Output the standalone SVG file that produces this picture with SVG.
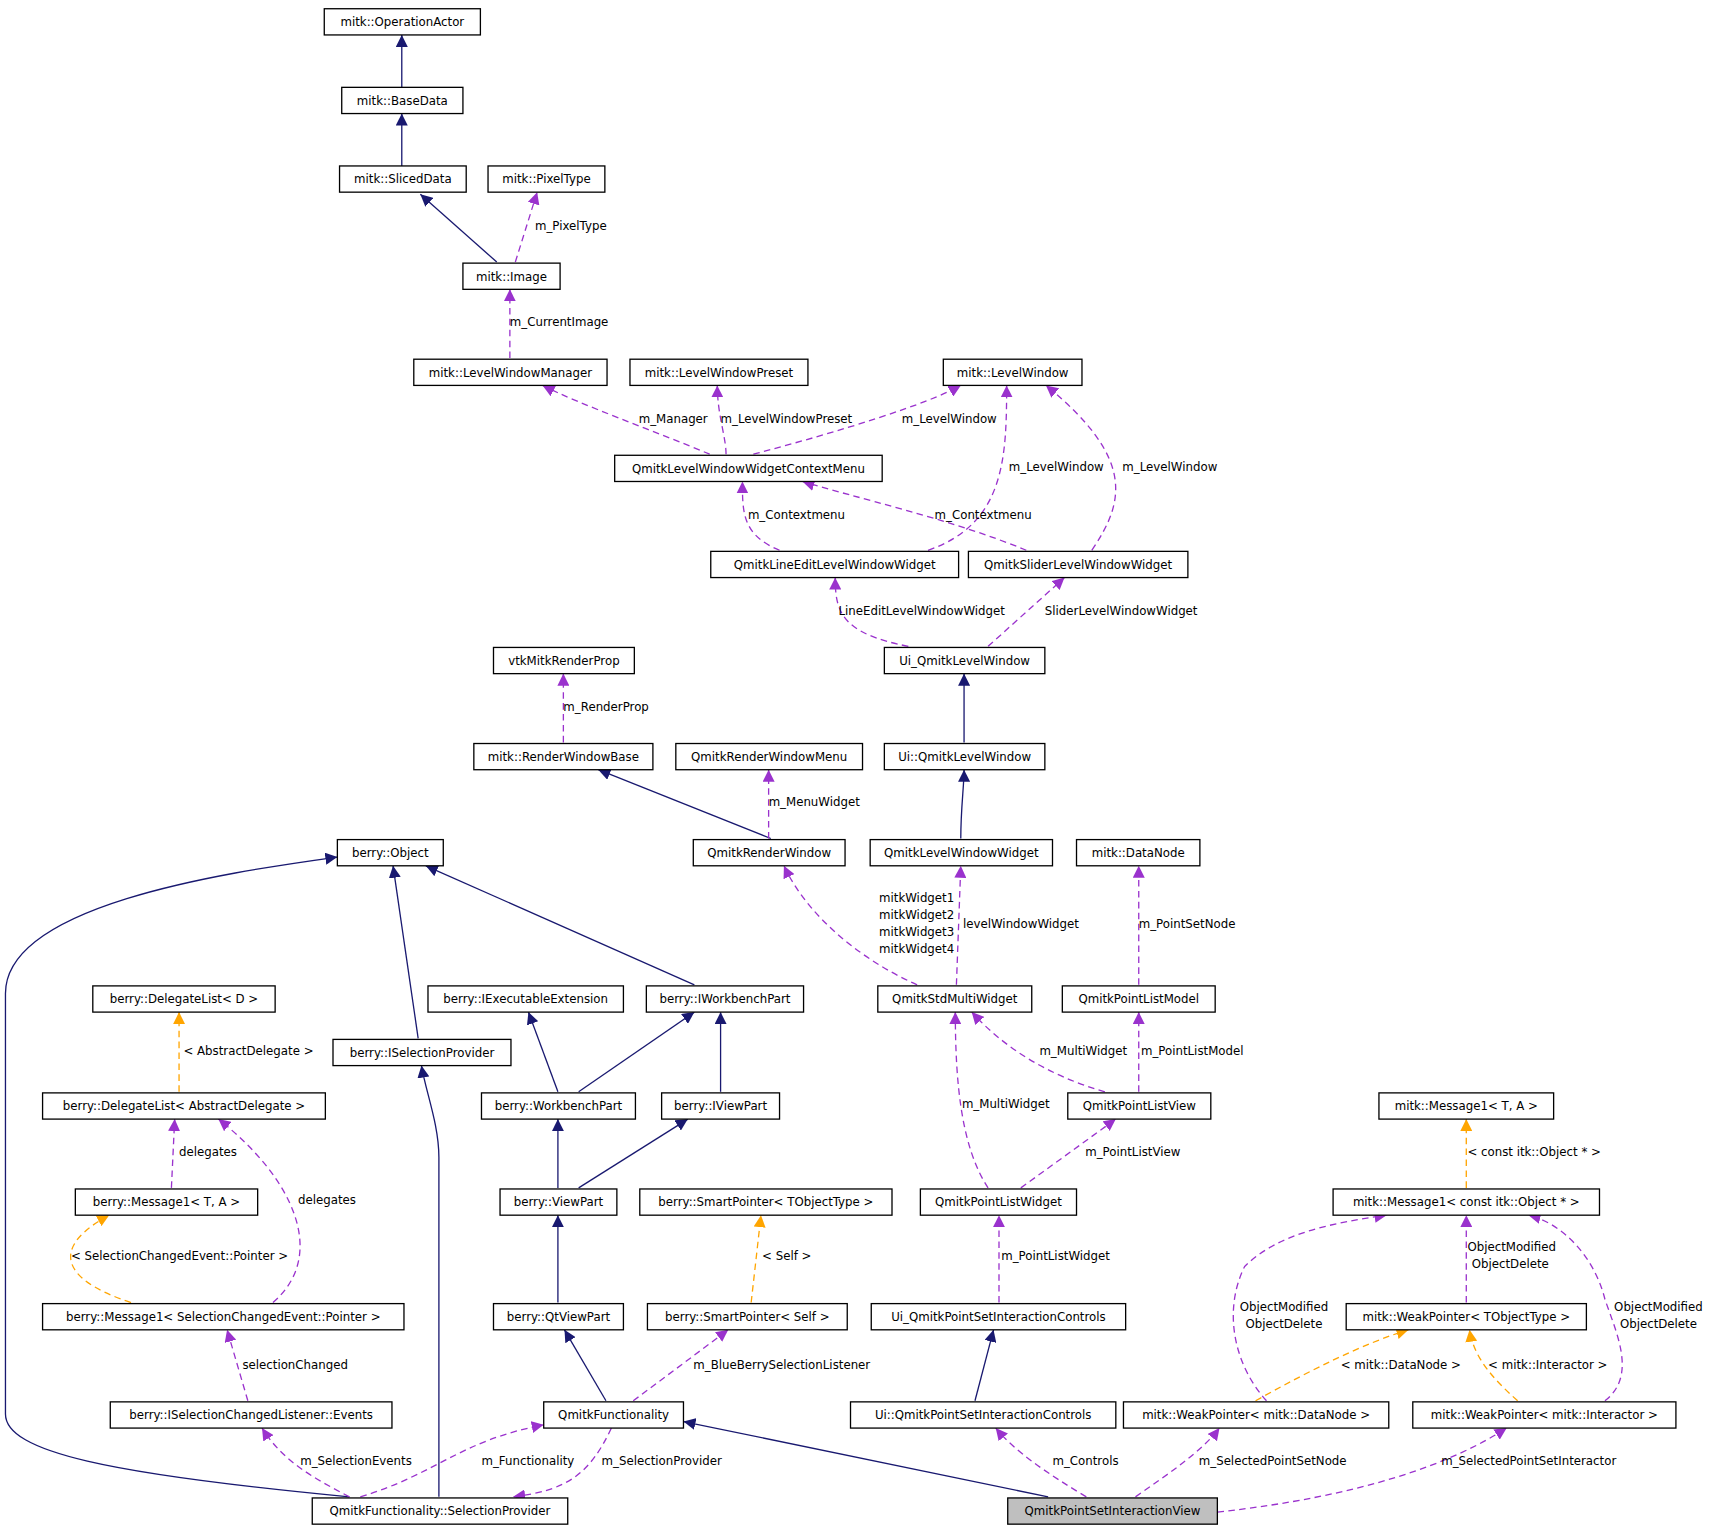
<svg xmlns="http://www.w3.org/2000/svg" width="1712" height="1531" viewBox="0 0 1712 1531">
<style>
.n rect{fill:#fff;stroke:#000;stroke-width:1.2}
.n text,.l{font-family:"DejaVu Sans",sans-serif;font-size:10.8px;fill:#000}
.n text{text-anchor:middle}
.s{fill:none;stroke:#191970;stroke-width:1.2}
.p{fill:none;stroke:#9a32cd;stroke-width:1.2;stroke-dasharray:6,4}
.o{fill:none;stroke:#ffa500;stroke-width:1.2;stroke-dasharray:6,4}
</style>
<defs>
<marker id="ms" viewBox="0 0 10 10" refX="10" refY="5" markerWidth="11" markerHeight="11" markerUnits="userSpaceOnUse" orient="auto"><path d="M0,0L10,5L0,10z" fill="#191970"/></marker>
<marker id="mp" viewBox="0 0 10 10" refX="10" refY="5" markerWidth="11" markerHeight="11" markerUnits="userSpaceOnUse" orient="auto"><path d="M0,0L10,5L0,10z" fill="#9a32cd"/></marker>
<marker id="mo" viewBox="0 0 10 10" refX="10" refY="5" markerWidth="11" markerHeight="11" markerUnits="userSpaceOnUse" orient="auto"><path d="M0,0L10,5L0,10z" fill="#ffa500"/></marker>
</defs>
<rect width="1712" height="1531" fill="#fff"/>
<g transform="scale(1.0918)">
<g id="edges">
<path class="s" marker-end="url(#ms)" d="M368,80L368,32"/>
<path class="s" marker-end="url(#ms)" d="M368,152L368,104"/>
<path class="s" marker-end="url(#ms)" d="M455,240L385,178"/>
<path class="s" marker-end="url(#ms)" d="M883,680L883,617"/>
<path class="s" marker-end="url(#ms)" d="M880,768C880,740 883,720 883,705"/>
<path class="s" marker-end="url(#ms)" d="M706,768L548,705"/>
<path class="s" marker-end="url(#ms)" d="M636,902L390,793"/>
<path class="s" marker-end="url(#ms)" d="M511,1000L484,927"/>
<path class="s" marker-end="url(#ms)" d="M530,1000L636,927"/>
<path class="s" marker-end="url(#ms)" d="M660,1000L660,927"/>
<path class="s" marker-end="url(#ms)" d="M511,1088L511,1025"/>
<path class="s" marker-end="url(#ms)" d="M530,1088L630,1025"/>
<path class="s" marker-end="url(#ms)" d="M511,1193L511,1113"/>
<path class="s" marker-end="url(#ms)" d="M555,1283L517,1218"/>
<path class="s" marker-end="url(#ms)" d="M383,951L360,793"/>
<path class="s" marker-end="url(#ms)" d="M402,1371L402,1060C402,1030 390,1000 386,976"/>
<path class="s" marker-end="url(#ms)" d="M320,1371C100,1350 5,1330 5,1295L5,910C5,830 200,800 309,785"/>
<path class="s" marker-end="url(#ms)" d="M960,1371L626,1302"/>
<path class="s" marker-end="url(#ms)" d="M893,1283L910,1218"/>
<path class="p" marker-end="url(#mp)" d="M472,240L492,176"/>
<path class="p" marker-end="url(#mp)" d="M467,328L467,265"/>
<path class="p" marker-end="url(#mp)" d="M650,416C600,395 530,370 497,353"/>
<path class="p" marker-end="url(#mp)" d="M665,416C665,400 657,380 657,353"/>
<path class="p" marker-end="url(#mp)" d="M690,416C770,395 850,370 880,353"/>
<path class="p" marker-end="url(#mp)" d="M714,504C680,490 680,470 680,441"/>
<path class="p" marker-end="url(#mp)" d="M850,504C920,480 922,420 922,353"/>
<path class="p" marker-end="url(#mp)" d="M940,504C870,475 780,455 735,441"/>
<path class="p" marker-end="url(#mp)" d="M1000,504C1030,460 1040,420 958,353"/>
<path class="p" marker-end="url(#mp)" d="M832,592C770,580 765,560 765,529"/>
<path class="p" marker-end="url(#mp)" d="M905,592L975,529"/>
<path class="p" marker-end="url(#mp)" d="M516,680L516,617"/>
<path class="p" marker-end="url(#mp)" d="M704,768L704,705"/>
<path class="p" marker-end="url(#mp)" d="M840,902C790,880 740,840 718,793"/>
<path class="p" marker-end="url(#mp)" d="M876,902L880,793"/>
<path class="p" marker-end="url(#mp)" d="M1043,902L1043,793"/>
<path class="p" marker-end="url(#mp)" d="M1012,1000C960,985 920,960 890,927"/>
<path class="p" marker-end="url(#mp)" d="M1043,1000L1043,927"/>
<path class="p" marker-end="url(#mp)" d="M905,1088C880,1050 875,990 875,927"/>
<path class="p" marker-end="url(#mp)" d="M935,1088L1022,1025"/>
<path class="p" marker-end="url(#mp)" d="M915,1193L915,1113"/>
<path class="p" marker-end="url(#mp)" d="M157,1088L160,1025"/>
<path class="p" marker-end="url(#mp)" d="M250,1193C300,1150 270,1080 200,1025"/>
<path class="p" marker-end="url(#mp)" d="M227,1283L208,1218"/>
<path class="p" marker-end="url(#mp)" d="M320,1371C290,1355 260,1340 240,1308"/>
<path class="p" marker-end="url(#mp)" d="M330,1371C400,1350 420,1320 498,1305"/>
<path class="p" marker-end="url(#mp)" d="M560,1308C540,1350 520,1365 470,1371"/>
<path class="p" marker-end="url(#mp)" d="M580,1283L667,1218"/>
<path class="p" marker-end="url(#mp)" d="M995,1371C960,1350 930,1330 912,1308"/>
<path class="p" marker-end="url(#mp)" d="M1040,1371C1070,1350 1100,1330 1117,1308"/>
<path class="p" marker-end="url(#mp)" d="M1115,1385C1250,1370 1330,1340 1380,1308"/>
<path class="p" marker-end="url(#mp)" d="M1343,1193L1343,1113"/>
<path class="p" marker-end="url(#mp)" d="M1160,1283C1130,1250 1120,1200 1140,1160C1170,1130 1220,1120 1270,1113"/>
<path class="p" marker-end="url(#mp)" d="M1470,1283C1500,1260 1480,1220 1470,1190C1460,1150 1430,1120 1400,1113"/>
<path class="o" marker-end="url(#mo)" d="M164,1000L164,927"/>
<path class="o" marker-end="url(#mo)" d="M120,1193C50,1170 50,1140 100,1113"/>
<path class="o" marker-end="url(#mo)" d="M688,1193L697,1113"/>
<path class="o" marker-end="url(#mo)" d="M1343,1088L1343,1025"/>
<path class="o" marker-end="url(#mo)" d="M1150,1283C1200,1255 1250,1230 1290,1218"/>
<path class="o" marker-end="url(#mo)" d="M1390,1283C1370,1265 1350,1245 1346,1218"/>
<text class="l" x="490" y="211">m_PixelType</text>
<text class="l" x="467" y="299">m_CurrentImage</text>
<text class="l" x="585" y="387">m_Manager</text>
<text class="l" x="660" y="387">m_LevelWindowPreset</text>
<text class="l" x="826" y="387">m_LevelWindow</text>
<text class="l" x="685" y="475">m_Contextmenu</text>
<text class="l" x="924" y="431">m_LevelWindow</text>
<text class="l" x="856" y="475">m_Contextmenu</text>
<text class="l" x="1028" y="431">m_LevelWindow</text>
<text class="l" x="768" y="563">LineEditLevelWindowWidget</text>
<text class="l" x="957" y="563">SliderLevelWindowWidget</text>
<text class="l" x="516" y="651">m_RenderProp</text>
<text class="l" x="704" y="738">m_MenuWidget</text>
<text class="l" x="874" y="826" text-anchor="end">mitkWidget1</text>
<text class="l" x="874" y="842" text-anchor="end">mitkWidget2</text>
<text class="l" x="874" y="857" text-anchor="end">mitkWidget3</text>
<text class="l" x="874" y="873" text-anchor="end">mitkWidget4</text>
<text class="l" x="882" y="850">levelWindowWidget</text>
<text class="l" x="1043" y="850">m_PointSetNode</text>
<text class="l" x="952" y="966">m_MultiWidget</text>
<text class="l" x="1045" y="966">m_PointListModel</text>
<text class="l" x="881" y="1015">m_MultiWidget</text>
<text class="l" x="994" y="1059">m_PointListView</text>
<text class="l" x="917" y="1154">m_PointListWidget</text>
<text class="l" x="164" y="1059">delegates</text>
<text class="l" x="273" y="1103">delegates</text>
<text class="l" x="222" y="1254">selectionChanged</text>
<text class="l" x="275" y="1342">m_SelectionEvents</text>
<text class="l" x="441" y="1342">m_Functionality</text>
<text class="l" x="551" y="1342">m_SelectionProvider</text>
<text class="l" x="635" y="1254">m_BlueBerrySelectionListener</text>
<text class="l" x="964" y="1342">m_Controls</text>
<text class="l" x="1098" y="1342">m_SelectedPointSetNode</text>
<text class="l" x="1320" y="1342">m_SelectedPointSetInteractor</text>
<text class="l" x="1344" y="1146">ObjectModified</text>
<text class="l" x="1348" y="1161">ObjectDelete</text>
<text class="l" x="1176" y="1201" text-anchor="middle">ObjectModified</text>
<text class="l" x="1176" y="1216" text-anchor="middle">ObjectDelete</text>
<text class="l" x="1519" y="1201" text-anchor="middle">ObjectModified</text>
<text class="l" x="1519" y="1216" text-anchor="middle">ObjectDelete</text>
<text class="l" x="168" y="966">&lt; AbstractDelegate &gt;</text>
<text class="l" x="65" y="1154">&lt; SelectionChangedEvent::Pointer &gt;</text>
<text class="l" x="698" y="1154">&lt; Self &gt;</text>
<text class="l" x="1344" y="1059">&lt; const itk::Object * &gt;</text>
<text class="l" x="1228" y="1254">&lt; mitk::DataNode &gt;</text>
<text class="l" x="1363" y="1254">&lt; mitk::Interactor &gt;</text>
</g>
<g id="n1" class="n"><rect x="297" y="8" width="143" height="24"/><text x="368.5" y="24">mitk::OperationActor</text></g>
<g id="n2" class="n"><rect x="313" y="80" width="111" height="24"/><text x="368.5" y="96">mitk::BaseData</text></g>
<g id="n3" class="n"><rect x="311" y="152" width="116" height="24"/><text x="369" y="168">mitk::SlicedData</text></g>
<g id="n4" class="n"><rect x="447" y="152" width="107" height="24"/><text x="500.5" y="168">mitk::PixelType</text></g>
<g id="n5" class="n"><rect x="424" y="241" width="89" height="24"/><text x="468.5" y="257">mitk::Image</text></g>
<g id="n6" class="n"><rect x="379" y="329" width="177" height="24"/><text x="467.5" y="345">mitk::LevelWindowManager</text></g>
<g id="n7" class="n"><rect x="577" y="329" width="163" height="24"/><text x="658.5" y="345">mitk::LevelWindowPreset</text></g>
<g id="n8" class="n"><rect x="864" y="329" width="127" height="24"/><text x="927.5" y="345">mitk::LevelWindow</text></g>
<g id="n9" class="n"><rect x="563" y="417" width="245" height="24"/><text x="685.5" y="433">QmitkLevelWindowWidgetContextMenu</text></g>
<g id="n10" class="n"><rect x="651" y="505" width="227" height="24"/><text x="764.5" y="521">QmitkLineEditLevelWindowWidget</text></g>
<g id="n11" class="n"><rect x="887" y="505" width="201" height="24"/><text x="987.5" y="521">QmitkSliderLevelWindowWidget</text></g>
<g id="n12" class="n"><rect x="810" y="593" width="147" height="24"/><text x="883.5" y="609">Ui_QmitkLevelWindow</text></g>
<g id="n13" class="n"><rect x="452" y="593" width="129" height="24"/><text x="516.5" y="609">vtkMitkRenderProp</text></g>
<g id="n14" class="n"><rect x="434" y="681" width="164" height="24"/><text x="516" y="697">mitk::RenderWindowBase</text></g>
<g id="n15" class="n"><rect x="619" y="681" width="171" height="24"/><text x="704.5" y="697">QmitkRenderWindowMenu</text></g>
<g id="n16" class="n"><rect x="810" y="681" width="147" height="24"/><text x="883.5" y="697">Ui::QmitkLevelWindow</text></g>
<g id="n17" class="n"><rect x="309" y="769" width="97" height="24"/><text x="357.5" y="785">berry::Object</text></g>
<g id="n18" class="n"><rect x="635" y="769" width="139" height="24"/><text x="704.5" y="785">QmitkRenderWindow</text></g>
<g id="n19" class="n"><rect x="797" y="769" width="167" height="24"/><text x="880.5" y="785">QmitkLevelWindowWidget</text></g>
<g id="n20" class="n"><rect x="986" y="769" width="113" height="24"/><text x="1042.5" y="785">mitk::DataNode</text></g>
<g id="n21" class="n"><rect x="85" y="903" width="167" height="24"/><text x="168.5" y="919">berry::DelegateList&lt; D &gt;</text></g>
<g id="n22" class="n"><rect x="392" y="903" width="179" height="24"/><text x="481.5" y="919">berry::IExecutableExtension</text></g>
<g id="n23" class="n"><rect x="592" y="903" width="144" height="24"/><text x="664" y="919">berry::IWorkbenchPart</text></g>
<g id="n24" class="n"><rect x="804" y="903" width="141" height="24"/><text x="874.5" y="919">QmitkStdMultiWidget</text></g>
<g id="n25" class="n"><rect x="973" y="903" width="140" height="24"/><text x="1043" y="919">QmitkPointListModel</text></g>
<g id="n26" class="n"><rect x="305" y="952" width="163" height="24"/><text x="386.5" y="968">berry::ISelectionProvider</text></g>
<g id="n27" class="n"><rect x="39" y="1001" width="259" height="24"/><text x="168.5" y="1017">berry::DelegateList&lt; AbstractDelegate &gt;</text></g>
<g id="n28" class="n"><rect x="441" y="1001" width="141" height="24"/><text x="511.5" y="1017">berry::WorkbenchPart</text></g>
<g id="n29" class="n"><rect x="606" y="1001" width="108" height="24"/><text x="660" y="1017">berry::IViewPart</text></g>
<g id="n30" class="n"><rect x="978" y="1001" width="131" height="24"/><text x="1043.5" y="1017">QmitkPointListView</text></g>
<g id="n31" class="n"><rect x="1263" y="1001" width="160" height="24"/><text x="1343" y="1017">mitk::Message1&lt; T, A &gt;</text></g>
<g id="n32" class="n"><rect x="69" y="1089" width="167" height="24"/><text x="152.5" y="1105">berry::Message1&lt; T, A &gt;</text></g>
<g id="n33" class="n"><rect x="458" y="1089" width="107" height="24"/><text x="511.5" y="1105">berry::ViewPart</text></g>
<g id="n34" class="n"><rect x="586" y="1089" width="231" height="24"/><text x="701.5" y="1105">berry::SmartPointer&lt; TObjectType &gt;</text></g>
<g id="n35" class="n"><rect x="843" y="1089" width="143" height="24"/><text x="914.5" y="1105">QmitkPointListWidget</text></g>
<g id="n36" class="n"><rect x="1221" y="1089" width="244" height="24"/><text x="1343" y="1105">mitk::Message1&lt; const itk::Object * &gt;</text></g>
<g id="n37" class="n"><rect x="39" y="1194" width="331" height="24"/><text x="204.5" y="1210">berry::Message1&lt; SelectionChangedEvent::Pointer &gt;</text></g>
<g id="n38" class="n"><rect x="452" y="1194" width="119" height="24"/><text x="511.5" y="1210">berry::QtViewPart</text></g>
<g id="n39" class="n"><rect x="593" y="1194" width="183" height="24"/><text x="684.5" y="1210">berry::SmartPointer&lt; Self &gt;</text></g>
<g id="n40" class="n"><rect x="798" y="1194" width="233" height="24"/><text x="914.5" y="1210">Ui_QmitkPointSetInteractionControls</text></g>
<g id="n41" class="n"><rect x="1233" y="1194" width="220" height="24"/><text x="1343" y="1210">mitk::WeakPointer&lt; TObjectType &gt;</text></g>
<g id="n42" class="n"><rect x="101" y="1284" width="258" height="24"/><text x="230" y="1300">berry::ISelectionChangedListener::Events</text></g>
<g id="n43" class="n"><rect x="498" y="1284" width="128" height="24"/><text x="562" y="1300">QmitkFunctionality</text></g>
<g id="n44" class="n"><rect x="779" y="1284" width="243" height="24"/><text x="900.5" y="1300">Ui::QmitkPointSetInteractionControls</text></g>
<g id="n45" class="n"><rect x="1029" y="1284" width="243" height="24"/><text x="1150.5" y="1300">mitk::WeakPointer&lt; mitk::DataNode &gt;</text></g>
<g id="n46" class="n"><rect x="1294" y="1284" width="241" height="24"/><text x="1414.5" y="1300">mitk::WeakPointer&lt; mitk::Interactor &gt;</text></g>
<g id="n47" class="n"><rect x="286" y="1372" width="234" height="24"/><text x="403" y="1388">QmitkFunctionality::SelectionProvider</text></g>
<g id="n48" class="n"><rect x="923" y="1372" width="192" height="24" style="fill:#bfbfbf"/><text x="1019" y="1388">QmitkPointSetInteractionView</text></g>
</g>
</svg>
